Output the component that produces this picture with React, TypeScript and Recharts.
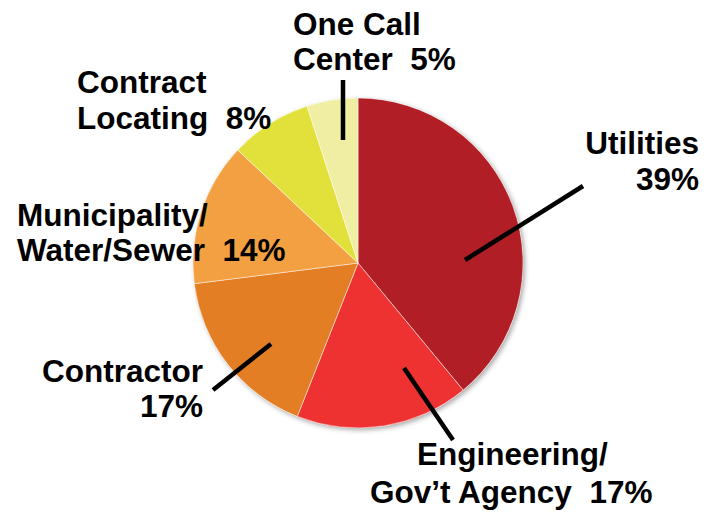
import React from "react";
import { PieChart, Pie, Cell } from "recharts";

const categories = [
  "Utilities",
  "Engineering/Gov’t Agency",
  "Contractor",
  "Municipality/Water/Sewer",
  "Contract Locating",
  "One Call Center",
];
const shares = [39, 17, 17, 14, 8, 5];
const colors = ["#B11E25", "#EE3232", "#E37E24", "#F3A042", "#E2E13C", "#F0EEA2"];

// text lines per slice, percentage appended from shares
const labelText = (i: number): string[] => {
  const p = `${shares[i]}%`;
  switch (i) {
    case 0:
      return ["Utilities", p];
    case 1:
      return ["Engineering/", `Gov’t Agency  ${p}`];
    case 2:
      return ["Contractor", p];
    case 3:
      return ["Municipality/", `Water/Sewer  ${p}`];
    case 4:
      return ["Contract", `Locating  ${p}`];
    default:
      return ["One Call", `Center  ${p}`];
  }
};

// label placement relative to pie centre: x per line, baselines, anchor, leader line
type Layout = {
  x: number[];
  y: number[];
  anchor: "start" | "end";
  line?: [number, number, number, number];
};
const layouts: Layout[] = [
  { x: [341, 341], y: [-109, -73], anchor: "end", line: [107, -3, 225, -77] },
  { x: [59, 12], y: [202, 240], anchor: "start", line: [46, 105, 95, 177] },
  { x: [-155, -155], y: [119, 154], anchor: "end", line: [-87, 81, -145, 127] },
  { x: [-341, -341], y: [-37, -2], anchor: "start" },
  { x: [-281, -281], y: [-170, -134], anchor: "start" },
  { x: [-65, -65], y: [-228, -193], anchor: "start", line: [-15, -183, -15, -123] },
];

const data = categories.map((name, i) => ({ name, value: shares[i] }));

const FONT = "'Liberation Sans', Arial, Helvetica, sans-serif";

function renderLabel(props: any) {
  const { cx, cy, index } = props;
  const l = layouts[index];
  const lines = labelText(index);
  return (
    <g key={`lbl-${index}`}>
      {l.line && (
        <line
          x1={cx + l.line[0]}
          y1={cy + l.line[1]}
          x2={cx + l.line[2]}
          y2={cy + l.line[3]}
          stroke="#000"
          strokeWidth={4.5}
        />
      )}
      {lines.map((t, j) => (
        <text
          key={j}
          x={cx + l.x[j]}
          y={cy + l.y[j]}
          textAnchor={l.anchor}
          fontFamily={FONT}
          fontWeight="bold"
          fontSize={31.5}
          fill="#000"
          style={{ whiteSpace: "pre" }}
        >
          {t}
        </text>
      ))}
    </g>
  );
}

export default function App() {
  return (
    <div style={{ position: "absolute", left: 0, top: 0, background: "#fff" }}>
      <PieChart width={717} height={512} margin={{ top: 0, right: 0, bottom: 0, left: 0 }}>
        <defs>
          <filter id="pieShadow" x="-10%" y="-10%" width="120%" height="120%">
            <feDropShadow dx="2" dy="2" stdDeviation="2.5" floodColor="#000" floodOpacity="0.35" />
          </filter>
        </defs>
        <Pie
          data={[{ name: "base", value: 1 }]}
          dataKey="value"
          cx={358}
          cy={263}
          outerRadius={165}
          stroke="none"
          isAnimationActive={false}
        >
          <Cell fill="#fff" filter="url(#pieShadow)" />
        </Pie>
        <Pie
          data={data}
          dataKey="value"
          nameKey="name"
          cx={358}
          cy={263}
          outerRadius={165}
          startAngle={90}
          endAngle={-270}
          stroke="#ffffff"
          strokeWidth={0.8}
          strokeOpacity={0.6}
          label={renderLabel}
          labelLine={false}
          isAnimationActive={false}
        >
          {data.map((_, i) => (
            <Cell key={i} fill={colors[i]} />
          ))}
        </Pie>
      </PieChart>
    </div>
  );
}
